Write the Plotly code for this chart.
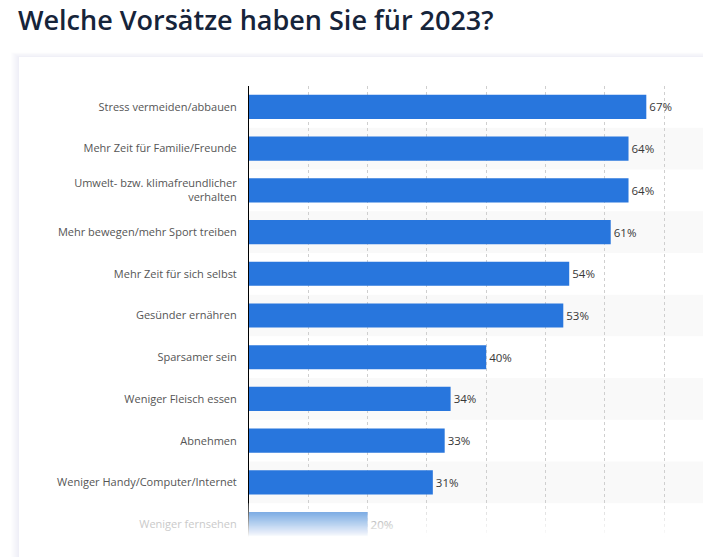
import plotly.graph_objects as go

# Umfrage: Vorsätze für 2023 (Anteil der Befragten in %)
labels = [
    "Stress vermeiden/abbauen",
    "Mehr Zeit für Familie/Freunde",
    "Umwelt- bzw. klimafreundlicher<br>verhalten",
    "Mehr bewegen/mehr Sport treiben",
    "Mehr Zeit für sich selbst",
    "Gesünder ernähren",
    "Sparsamer sein",
    "Weniger Fleisch essen",
    "Abnehmen",
    "Weniger Handy/Computer/Internet",
    "Weniger fernsehen",
]
values = [67, 64, 64, 61, 54, 53, 40, 34, 33, 31, 20]
text_labels = [f"{v}%" for v in values]

W, H = 703, 557
L, R, T, B = 249, 0, 86, 12
pw, ph = W - L - R, H - T - B

def px_x(x):
    return (x - L) / pw

def px_y(y):
    return 1 - (y - T) / ph

n = len(labels)
faded = n - 1
txt_colors = ["#383838"] * n
txt_colors[faded] = "#555555"
tick_text = [f'<span style="color:#cacaca">{s}</span>' if i == faded else s
             for i, s in enumerate(labels)]

fig = go.Figure(go.Bar(
    x=values, y=list(range(n)), orientation="h",
    marker=dict(color="#2876dd", line=dict(width=0)),
    width=0.58,
    text=text_labels, textposition="outside",
    textfont=dict(family="Open Sans", size=11.5, color=txt_colors),
    cliponaxis=False, hoverinfo="skip",
))

shapes = []
# soft card shadow + card
for d in range(8, 0, -1):
    shapes.append(dict(type="rect", xref="paper", yref="paper", layer="below",
                       x0=px_x(19 - d), x1=1.1, y0=-0.2, y1=px_y(57 - d * 0.6),
                       fillcolor="rgba(30,50,80,0.007)", line=dict(width=0)))
shapes.append(dict(type="rect", xref="paper", yref="paper", layer="below",
                   x0=px_x(19), x1=1.1, y0=-0.2, y1=px_y(57),
                   fillcolor="white", line=dict(width=0)))
# alternating row stripes
for i in range(1, n, 2):
    shapes.append(dict(type="rect", xref="paper", yref="y", layer="below",
                       x0=0, x1=1, y0=i - 0.5, y1=i + 0.5,
                       fillcolor="#f9f9f9", line=dict(width=0)))
# fade-out of the last row: nested white layers, cumulative opacity
steps = 36
y_start, y_end = faded - 0.5, faded + 0.32
o_prev = 0.0
for s in range(steps):
    y0 = y_start + (y_end - y_start) * s / steps
    o = 0.2 + 0.8 * (s + 1) / steps
    if s == steps - 1:
        o = 1.0
    a = 1 - (1 - o) / (1 - o_prev) if o_prev < 1 else 0
    o_prev = o
    shapes.append(dict(type="rect", xref="paper", yref="y", layer="above",
                       x0=-0.01, x1=1, y0=y0, y1=faded + 0.9,
                       fillcolor="white", opacity=max(min(a, 1), 0),
                       line=dict(width=0)))

fig.update_layout(
    width=W, height=H,
    margin=dict(l=L, r=R, t=T, b=B),
    paper_bgcolor="white", plot_bgcolor="rgba(0,0,0,0)",
    showlegend=False,
    shapes=shapes,
    font=dict(family="Open Sans", size=11, color="#555555"),
    title=dict(text="Welche Vorsätze haben Sie für 2023?",
               xref="container", yref="container", x=18 / W,
               xanchor="left", y=1 - 21 / H, yanchor="middle",
               font=dict(family="Open Sans", size=27, color="#16243a", weight=600)),
    xaxis=dict(range=[0, pw / 5.93], showticklabels=False, ticks="",
               showgrid=True, gridcolor="#cfcfcf", griddash="dot", gridwidth=1,
               dtick=10, tick0=0, zeroline=False, showline=False, fixedrange=True),
    yaxis=dict(tickvals=list(range(n)), ticktext=tick_text,
               range=[n - 0.5, -0.5], showgrid=False, zeroline=False,
               showline=True, linecolor="#000000", linewidth=1,
               ticks="", ticklabelstandoff=9, fixedrange=True,
               tickfont=dict(family="Open Sans", size=11, color="#555555")),
)

# drop the default body margin so the figure fills the window
fig.write_html("out.html",
               config={"displayModeBar": False},
               post_script="document.body.style.margin='0';"
                           "document.body.style.overflow='hidden';")
